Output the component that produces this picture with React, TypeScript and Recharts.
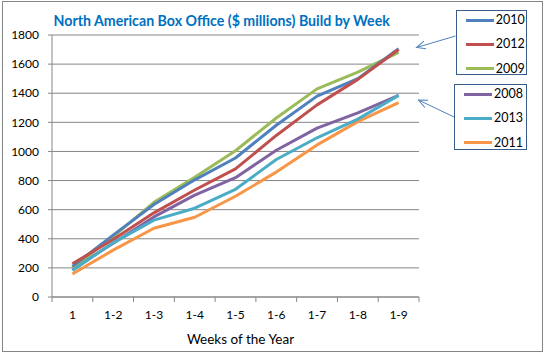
import React from 'react';
import { LineChart, Line, XAxis, YAxis, CartesianGrid, Legend } from 'recharts';

const weeks = ['1', '1-2', '1-3', '1-4', '1-5', '1-6', '1-7', '1-8', '1-9'];
const y2010 = [210, 425, 635, 805, 955, 1180, 1380, 1500, 1705];
const y2012 = [228, 395, 578, 735, 880, 1110, 1320, 1495, 1700];
const y2009 = [200, 415, 650, 822, 1005, 1230, 1430, 1545, 1680];
const y2008 = [192, 370, 550, 700, 820, 1008, 1160, 1265, 1385];
const y2013 = [182, 372, 528, 610, 740, 945, 1094, 1222, 1385];
const y2011 = [158, 322, 472, 548, 692, 858, 1045, 1205, 1335];
const yTicks = [0, 200, 400, 600, 800, 1000, 1200, 1400, 1600, 1800];

const groupTop = ['2010', '2012', '2009'];
const groupBottom = ['2008', '2013', '2011'];

const colors: Record<string, string> = {
  '2010': '#4F81BD',
  '2012': '#C0504D',
  '2009': '#9BBB59',
  '2008': '#8064A2',
  '2013': '#4BACC6',
  '2011': '#F79646',
};

const seriesValues: Record<string, number[]> = {
  '2008': y2008,
  '2009': y2009,
  '2010': y2010,
  '2011': y2011,
  '2012': y2012,
  '2013': y2013,
};
const drawOrder = ['2008', '2009', '2010', '2011', '2012', '2013'];

const data = weeks.map((w, i) => {
  const row: Record<string, string | number> = { week: w };
  drawOrder.forEach((k) => {
    row[k] = seriesValues[k][i];
  });
  return row;
});

const FONT = 'Lato, "Open Sans", sans-serif';
const GRID = '#868686';

const XTick = (props: any) => {
  const { x, y, payload, index } = props;
  const off = payload && typeof payload.offset === 'number' && payload.offset > 0 ? payload.offset : 20.4;
  return (
    <g>
      <line x1={x - off} y1={y} x2={x - off} y2={y + 5} stroke={GRID} strokeWidth={1} />
      {index === weeks.length - 1 ? (
        <line x1={x + off} y1={y} x2={x + off} y2={y + 5} stroke={GRID} strokeWidth={1} />
      ) : null}
      <text x={x} y={y + 22} textAnchor="middle" fontSize={12} fontFamily={FONT} fill="#000">
        {payload.value}
      </text>
    </g>
  );
};

const LegendBox = ({ names, style }: { names: string[]; style: React.CSSProperties }) => (
  <div
    style={{
      position: 'absolute',
      border: '1px solid #385D8A',
      boxSizing: 'border-box',
      background: '#fff',
      ...style,
    }}
  >
    {names.map((n, i) => (
      <div
        key={n}
        style={{
          position: 'absolute',
          left: 9,
          top: 2 + i * 24.3,
          height: 14,
          display: 'flex',
          alignItems: 'center',
        }}
      >
        <div style={{ width: 28, height: 3, background: colors[n] }} />
        <span style={{ marginLeft: 2, fontSize: 12.5, fontFamily: FONT, color: '#000', lineHeight: '14px' }}>{n}</span>
      </div>
    ))}
  </div>
);

const renderLegend = () => (
  <div style={{ position: 'relative', width: 74, height: 142 }}>
    <LegendBox names={groupTop} style={{ left: 1.7, top: 0, width: 71, height: 65 }} />
    <LegendBox names={groupBottom} style={{ left: 0, top: 74, width: 73, height: 66 }} />
  </div>
);

export default function App() {
  return (
    <div style={{ position: 'absolute', left: 0, top: 0, width: 547, height: 353, background: '#fff' }}>
      <div
        style={{
          position: 'absolute',
          left: 2,
          top: 1,
          width: 541,
          height: 351,
          border: '1px solid #868686',
          boxSizing: 'border-box',
        }}
      />
      <div
        style={{
          position: 'absolute',
          left: 21.7,
          top: 10.5,
          width: 400,
          textAlign: 'center',
          fontFamily: FONT,
          fontWeight: 700,
          fontSize: 14.2,
          lineHeight: '20px',
          color: '#0070C0',
        }}
      >
        North American Box Office ($ millions) Build by Week
      </div>
      <div style={{ position: 'absolute', left: 0, top: 0 }}>
        <LineChart width={547} height={353} data={data} margin={{ top: 35, right: 128, bottom: 0, left: 0 }}>
          <CartesianGrid vertical={false} stroke={GRID} strokeDasharray="" />
          <XAxis
            dataKey="week"
            scale="band"
            stroke={GRID}
            tickLine={false}
            tickSize={0}
            tickMargin={0}
            interval={0}
            height={56}
            tick={<XTick />}
            label={{
              value: 'Weeks of the Year',
              position: 'insideBottom',
              offset: 9,
              dx: 5,
              fontSize: 13.5,
              fontFamily: FONT,
              fill: '#000',
            }}
          />
          <YAxis
            width={52}
            domain={[0, 1800]}
            ticks={yTicks}
            interval={0}
            stroke={GRID}
            tickSize={4}
            tickMargin={9}
            tick={{ fontSize: 12, fontFamily: FONT, fill: '#000' }}
          />
          <Legend
            layout="vertical"
            align="center"
            verticalAlign="middle"
            content={renderLegend}
            wrapperStyle={{ left: 454, top: 10, width: 74, height: 142 }}
          />
          {drawOrder.map((k) => (
            <Line
              key={k}
              dataKey={k}
              name={k}
              stroke={colors[k]}
              strokeWidth={3}
              dot={false}
              activeDot={false}
              isAnimationActive={false}
              strokeLinejoin="round"
            />
          ))}
        </LineChart>
      </div>
      <svg
        width={547}
        height={353}
        style={{ position: 'absolute', left: 0, top: 0, pointerEvents: 'none' }}
      >
        <defs>
          <marker id="openArrow" markerWidth="10" markerHeight="10" refX="9" refY="5" orient="auto" markerUnits="userSpaceOnUse">
            <path d="M0,1 L9,5 L0,9" fill="none" stroke="#4F81BD" strokeWidth={1} />
          </marker>
        </defs>
        <line x1={455.5} y1={36} x2={416.5} y2={47.5} stroke="#4F81BD" strokeWidth={1} markerEnd="url(#openArrow)" />
        <line x1={454} y1={117} x2={418.5} y2={100} stroke="#4F81BD" strokeWidth={1} markerEnd="url(#openArrow)" />
      </svg>
    </div>
  );
}
